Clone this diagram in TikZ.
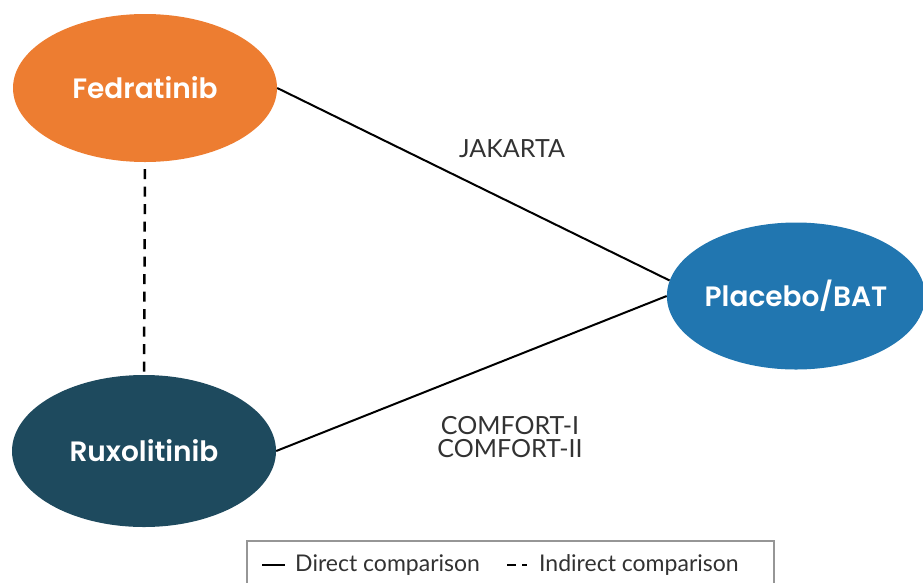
\documentclass[tikz,border=0pt]{standalone}
\usepackage{fontspec}
\setmainfont{Lato}
\newfontfamily\nodefont{Poppins}[UprightFont=* SemiBold, BoldFont=* SemiBold]
\usetikzlibrary{shapes.geometric}
\definecolor{fedorange}{RGB}{237,125,49}
\definecolor{plablue}{RGB}{33,118,176}
\definecolor{ruxteal}{RGB}{30,74,94}
\definecolor{txtgray}{RGB}{50,50,50}
\definecolor{boxgray}{RGB}{150,150,150}
\tikzset{
  drug/.style={ellipse, inner sep=0pt, text=white, font=\nodefont\fontsize{28}{32}\selectfont},
  trial/.style={text=txtgray, font=\fontsize{25}{23}\selectfont, align=center, inner sep=0pt},
  legtext/.style={text=txtgray, font=\fontsize{23}{26}\selectfont, anchor=west, inner sep=0pt},
  direct/.style={line width=2pt, black},
  indirect/.style={line width=2.5pt, black, dash pattern=on 10pt off 7.5pt},
}
\begin{document}
\begin{tikzpicture}[x=1pt,y=-1pt]
\useasboundingbox (0,0) rectangle (923,582);
\node[drug, fill=fedorange, minimum width=264pt, minimum height=148pt] (fed) at (145,88) {Fedratinib};
\node[drug, fill=ruxteal, minimum width=264pt, minimum height=152pt] (rux) at (144,451) {Ruxolitinib};
\node[drug, fill=plablue, minimum width=252pt, minimum height=147pt] (pla) at (796,296) {Placebo/BAT};
\draw[direct] (fed.east) -- (pla.173);
\draw[direct] (rux.east) -- (pla.180);
\draw[indirect, shorten <=7pt, shorten >=2pt] (fed.south) -- (rux.north);
\node[trial] (jak) at (512,149) {JAKARTA};
\node[trial] (com) at (510,437) {COMFORT-I\\COMFORT-II};
% legend
\draw[boxgray, line width=1.5pt] (247,595) -- (247,541) -- (774,541) -- (774,595);
\coordinate (l1a) at (262,565);
\coordinate (l1b) at (285,565);
\draw[direct, line width=2.5pt] (l1a) -- (l1b);
\node[legtext] (l1t) at (295,565) {Direct comparison};
\coordinate (l2a) at (507,565);
\coordinate (l2b) at (533,565);
\draw[line width=2.5pt, dash pattern=on 9pt off 6pt on 5pt off 20pt] (l2a) -- (l2b);
\node[legtext] (l2t) at (539,565) {Indirect comparison};
\end{tikzpicture}
\end{document}
